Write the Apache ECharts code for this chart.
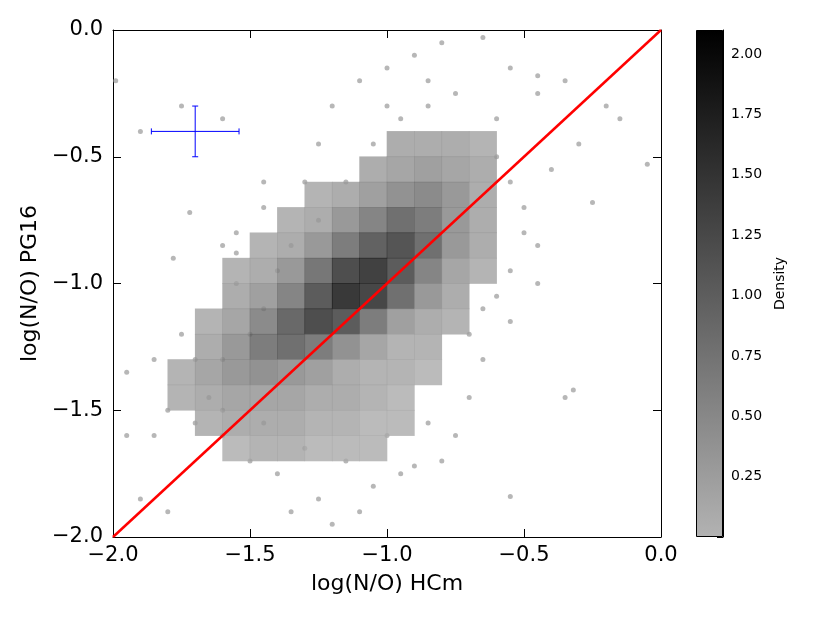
<!DOCTYPE html>
<html>
<head>
<meta charset="utf-8">
<script src="https://cdn.jsdelivr.net/npm/echarts@6/dist/echarts.min.js"></script>
<style>
  html, body { margin: 0; padding: 0; background: #fff; }
  #chart { width: 817px; height: 617px; }
</style>
</head>
<body>
<div id="chart"></div>
<script>
// density grid, cell size 0.1, x centres -1.95 + 0.1*col
const cellStep = 0.1;
const rowY = [-0.45, -0.55, -0.65, -0.75, -0.85, -0.95, -1.05, -1.15, -1.25, -1.35, -1.45, -1.55, -1.65];
const rowStart = [10, 9, 7, 6, 5, 4, 4, 3, 3, 2, 2, 3, 4];
const rowValues = [
  [0.3, 0.3, 0.3, 0.2],
  [0.3, 0.4, 0.5, 0.4, 0.3],
  [0.2, 0.3, 0.5, 0.7, 0.8, 0.6, 0.3],
  [0.2, 0.3, 0.6, 0.9, 1.2, 1.0, 0.6, 0.3],
  [0.2, 0.3, 0.6, 1.0, 1.4, 1.6, 1.2, 0.6, 0.3],
  [0.2, 0.3, 0.6, 1.1, 1.7, 1.9, 1.5, 0.9, 0.4, 0.2],
  [0.3, 0.5, 0.9, 1.5, 2.0, 1.8, 1.2, 0.6, 0.3],
  [0.2, 0.4, 0.8, 1.3, 1.7, 1.5, 1.0, 0.5, 0.3, 0.2],
  [0.3, 0.6, 1.0, 1.2, 1.0, 0.7, 0.4, 0.2, 0.2],
  [0.2, 0.4, 0.6, 0.7, 0.6, 0.5, 0.3, 0.2, 0.2, 0.1],
  [0.2, 0.3, 0.4, 0.4, 0.4, 0.3, 0.3, 0.2, 0.1],
  [0.2, 0.3, 0.3, 0.3, 0.2, 0.2, 0.1, 0.1],
  [0.1, 0.2, 0.2, 0.1, 0.1, 0.1]
];

// sparse outlying points
const outX = [-1.99,-1.75,-1.6,-1.72,-1.78,-1.6,-1.55,-1.55,-1.45,-1.3,-1.25,-1.2,-1.1,-1.0,-0.9,-0.8,-0.65,-0.55,-0.45,-0.45,-0.35,-0.2,-0.15,-0.05,-0.25,-0.3,-0.4,-0.5,-0.45,-0.55,-0.6,-0.65,-0.7,-0.55,-0.32,-0.35,-0.55,-0.75,-0.8,-0.9,-0.95,-1.05,-1.1,-1.2,-1.25,-1.35,-1.4,-1.5,-1.6,-1.7,-1.8,-1.85,-1.95,-1.75,-1.85,-1.9,-1.95,-1.8,-1.0,-0.85,-0.7,-0.65,-1.15,-1.3,-1.45,-1.65,-1.6,-1.5,-1.45,-1.4,-1.35,-1.25,-1.15,-1.05,-0.95,-0.85,-0.75,-0.6,-0.6,-0.55,-0.5,-0.45,-0.85,-1.0,-1.6,-1.7,-1.55,-1.45,-1.9];
const outY = [-0.2,-0.3,-0.35,-0.72,-0.9,-0.85,-0.88,-0.8,-0.7,-0.6,-0.45,-0.3,-0.2,-0.15,-0.1,-0.05,-0.03,-0.15,-0.25,-0.18,-0.2,-0.3,-0.35,-0.53,-0.68,-0.45,-0.55,-0.8,-0.85,-0.95,-1.05,-1.1,-1.2,-1.15,-1.42,-1.45,-1.84,-1.6,-1.7,-1.72,-1.75,-1.8,-1.9,-1.95,-1.85,-1.9,-1.75,-1.7,-1.6,-1.55,-1.5,-1.3,-1.35,-1.2,-1.6,-1.85,-1.6,-1.9,-1.6,-1.55,-1.45,-1.3,-1.7,-1.65,-1.55,-1.45,-1.3,-1.2,-1.1,-0.95,-0.85,-0.75,-0.6,-0.45,-0.35,-0.3,-0.25,-0.35,-0.5,-0.6,-0.7,-1.0,-0.2,-0.3,-1.5,-1.3,-1.0,-0.6,-0.4];
const outDensity = 0.15;

// representative error bar [x, y, xerr, yerr]
const errBar = [-1.7, -0.4, 0.16, 0.1];
const oneToOne = [[-2, -2], [0, 0]];
const densityMax = 2.1;

const cells = [];
rowY.forEach((y, r) => {
  rowValues[r].forEach((v, k) => {
    cells.push([-1.95 + cellStep * (rowStart[r] + k), y, v]);
  });
});
const outliers = outX.map((x, i) => [x, outY[i], outDensity]);

const fmt = v => (v < 0 ? '\u2212' : '') + Math.abs(v).toFixed(1);
const font = 'DejaVu Sans';
const mainRange = { min: -2, max: 0, interval: 0.5 };
const blackLine = { show: true, onZero: false, lineStyle: { color: '#000', width: 1 } };
const inTick = { show: true, inside: true, length: 8, lineStyle: { color: '#000' } };

const chart = echarts.init(document.getElementById('chart'));
chart.setOption({
  animation: false,
  textStyle: { fontFamily: font },
  grid: [
    { left: 113, right: 156, top: 30, bottom: 80 },
    { left: 696, right: 94, top: 30, bottom: 80 }
  ],
  visualMap: {
    show: false, seriesIndex: [0, 1], dimension: 2, min: 0, max: densityMax,
    inRange: { color: ['#b2b2b2', '#000000'] }
  },
  xAxis: [
    { gridIndex: 0, type: 'value', ...mainRange, name: 'log(N/O) HCm', nameLocation: 'middle', nameGap: 36,
      nameTextStyle: { fontSize: 22, color: '#000' },
      axisLine: blackLine, axisTick: inTick,
      axisLabel: { formatter: fmt, fontSize: 21, color: '#000', margin: 8 }, splitLine: { show: false } },
    { gridIndex: 0, type: 'value', ...mainRange, position: 'top',
      axisLine: blackLine, axisTick: inTick,
      axisLabel: { show: false }, splitLine: { show: false } },
    { gridIndex: 1, type: 'category', data: [''], axisLine: { show: false },
      axisTick: { show: false }, axisLabel: { show: false } }
  ],
  yAxis: [
    { gridIndex: 0, type: 'value', ...mainRange, name: 'log(N/O) PG16', nameLocation: 'middle', nameGap: 72,
      nameTextStyle: { fontSize: 22, color: '#000' },
      axisLine: blackLine, axisTick: inTick,
      axisLabel: { formatter: fmt, fontSize: 21, color: '#000', margin: 10 }, splitLine: { show: false } },
    { gridIndex: 0, type: 'value', ...mainRange, position: 'right',
      axisLine: blackLine, axisTick: inTick,
      axisLabel: { show: false }, splitLine: { show: false } },
    { gridIndex: 1, type: 'value', min: 0, max: densityMax, interval: 0.25, position: 'right',
      name: 'Density', nameLocation: 'middle', nameGap: 50, nameRotate: 90,
      nameTextStyle: { fontSize: 14, color: '#000' },
      axisLine: blackLine, axisTick: { show: true, inside: true, length: 6, lineStyle: { color: '#000' } },
      axisLabel: { fontSize: 14, color: '#000', showMaxLabel: false, formatter: v => v === 0 ? '' : v.toFixed(2) },
      splitLine: { show: false } }
  ],
  series: [
    { type: 'scatter', xAxisIndex: 0, yAxisIndex: 0, data: outliers, symbolSize: 5 },
    { type: 'scatter', xAxisIndex: 0, yAxisIndex: 0, data: cells, symbol: 'rect', symbolSize: [28, 26] },
    { type: 'line', xAxisIndex: 0, yAxisIndex: 0, data: oneToOne, symbol: 'none',
      lineStyle: { color: '#ff0000', width: 2.5 } },
    { type: 'custom', xAxisIndex: 0, yAxisIndex: 0, data: [errBar],
      renderItem: (params, api) => {
        const x = api.value(0), y = api.value(1), dx = api.value(2), dy = api.value(3);
        const l = api.coord([x - dx, y]), r = api.coord([x + dx, y]);
        const t = api.coord([x, y + dy]), b = api.coord([x, y - dy]);
        const st = { stroke: '#0000ff', lineWidth: 1 };
        const seg = (a, c) => ({ type: 'line', shape: { x1: a[0], y1: a[1], x2: c[0], y2: c[1] }, style: st });
        return { type: 'group', children: [
          seg(l, r), seg(t, b),
          seg([l[0], l[1] - 3], [l[0], l[1] + 3]), seg([r[0], r[1] - 3], [r[0], r[1] + 3]),
          seg([t[0] - 3, t[1]], [t[0] + 3, t[1]]), seg([b[0] - 3, b[1]], [b[0] + 3, b[1]])
        ] };
      } },
    { type: 'bar', xAxisIndex: 2, yAxisIndex: 2, data: [densityMax], barWidth: '100%', silent: true,
      itemStyle: { borderColor: '#000', borderWidth: 1,
        color: new echarts.graphic.LinearGradient(0, 0, 0, 1,
        [{ offset: 0, color: '#000000' }, { offset: 1, color: '#b2b2b2' }]) } }
  ]
});
</script>
</body>
</html>
